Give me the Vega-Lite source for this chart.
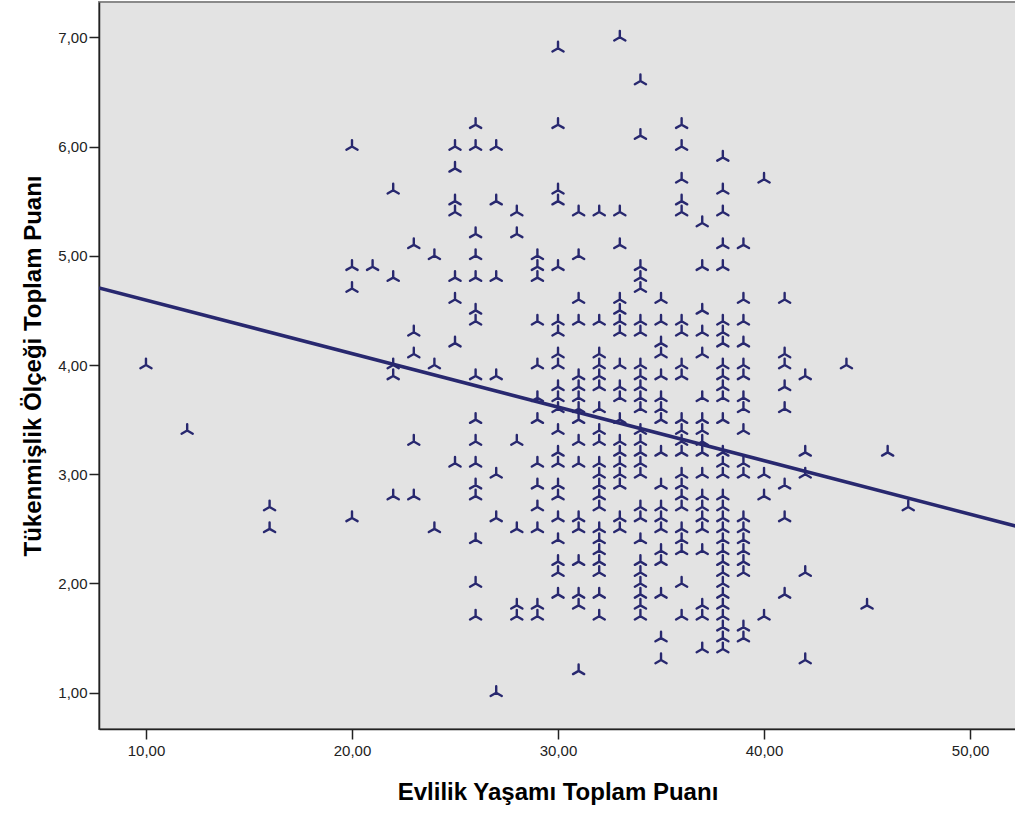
{
  "$schema": "https://vega.github.io/schema/vega-lite/v6.json",
  "width": 917,
  "height": 727,
  "autosize": {"type": "none"},
  "padding": {"left": 99, "top": 2, "right": 0, "bottom": 84},
  "background": "#ffffff",
  "config": {
    "view": {"fill": "#E3E3E3", "stroke": "#8A8A8A", "strokeWidth": 2},
    "axis": {"grid": false, "domainColor": "#222222", "domainWidth": 1.5, "tickColor": "#222222", "tickWidth": 1.5, "tickSize": 10,
      "labelFont": "Liberation Sans", "labelFontSize": 15, "labelColor": "#222222",
      "titleFont": "Liberation Sans", "titleFontSize": 24, "titleFontWeight": "bold", "titleColor": "#000000"}
  },
  "datasets": {
    "pts": [
      {"x":10,"y":4.0},{"x":12,"y":3.4},{"x":16,"y":2.7},{"x":16,"y":2.5},
      {"x":20,"y":6.0},{"x":20,"y":4.9},{"x":20,"y":4.7},{"x":20,"y":2.6},
      {"x":21,"y":4.9},
      {"x":22,"y":5.6},{"x":22,"y":4.8},{"x":22,"y":4.0},{"x":22,"y":3.9},{"x":22,"y":2.8},
      {"x":23,"y":5.1},{"x":23,"y":4.3},{"x":23,"y":4.1},{"x":23,"y":3.3},{"x":23,"y":2.8},
      {"x":24,"y":5.0},{"x":24,"y":4.0},{"x":24,"y":2.5},
      {"x":25,"y":6.0},{"x":25,"y":5.8},{"x":25,"y":5.5},{"x":25,"y":5.4},{"x":25,"y":4.8},{"x":25,"y":4.6},{"x":25,"y":4.2},{"x":25,"y":3.1},
      {"x":26,"y":6.2},{"x":26,"y":6.0},{"x":26,"y":5.2},{"x":26,"y":5.0},{"x":26,"y":4.8},{"x":26,"y":4.5},{"x":26,"y":4.4},{"x":26,"y":3.9},{"x":26,"y":3.5},{"x":26,"y":3.3},{"x":26,"y":3.1},{"x":26,"y":2.9},{"x":26,"y":2.8},{"x":26,"y":2.4},{"x":26,"y":2.0},{"x":26,"y":1.7},
      {"x":27,"y":6.0},{"x":27,"y":5.5},{"x":27,"y":4.8},{"x":27,"y":3.9},{"x":27,"y":3.0},{"x":27,"y":2.6},{"x":27,"y":1.0},
      {"x":28,"y":5.4},{"x":28,"y":5.2},{"x":28,"y":3.3},{"x":28,"y":2.5},{"x":28,"y":1.8},{"x":28,"y":1.7},
      {"x":29,"y":5.0},{"x":29,"y":4.9},{"x":29,"y":4.8},{"x":29,"y":4.4},{"x":29,"y":4.0},{"x":29,"y":3.7},{"x":29,"y":3.5},{"x":29,"y":3.1},{"x":29,"y":2.9},{"x":29,"y":2.7},{"x":29,"y":2.5},{"x":29,"y":1.8},{"x":29,"y":1.7},
      {"x":30,"y":6.9},{"x":30,"y":6.2},{"x":30,"y":5.6},{"x":30,"y":5.5},{"x":30,"y":4.9},{"x":30,"y":4.4},{"x":30,"y":4.3},{"x":30,"y":4.1},{"x":30,"y":4.0},{"x":30,"y":3.8},{"x":30,"y":3.7},{"x":30,"y":3.6},{"x":30,"y":3.4},{"x":30,"y":3.2},{"x":30,"y":3.1},{"x":30,"y":2.9},{"x":30,"y":2.8},{"x":30,"y":2.6},{"x":30,"y":2.4},{"x":30,"y":2.2},{"x":30,"y":2.1},{"x":30,"y":1.9},
      {"x":31,"y":5.4},{"x":31,"y":5.0},{"x":31,"y":4.6},{"x":31,"y":4.4},{"x":31,"y":3.9},{"x":31,"y":3.8},{"x":31,"y":3.7},{"x":31,"y":3.6},{"x":31,"y":3.5},{"x":31,"y":3.3},{"x":31,"y":3.1},{"x":31,"y":2.6},{"x":31,"y":2.5},{"x":31,"y":2.2},{"x":31,"y":1.9},{"x":31,"y":1.8},{"x":31,"y":1.2},
      {"x":32,"y":5.4},{"x":32,"y":4.4},{"x":32,"y":4.1},{"x":32,"y":4.0},{"x":32,"y":3.9},{"x":32,"y":3.8},{"x":32,"y":3.6},{"x":32,"y":3.4},{"x":32,"y":3.3},{"x":32,"y":3.1},{"x":32,"y":3.0},{"x":32,"y":2.9},{"x":32,"y":2.8},{"x":32,"y":2.7},{"x":32,"y":2.5},{"x":32,"y":2.4},{"x":32,"y":2.3},{"x":32,"y":2.2},{"x":32,"y":2.1},{"x":32,"y":1.9},{"x":32,"y":1.7},
      {"x":33,"y":7.0},{"x":33,"y":5.4},{"x":33,"y":5.1},{"x":33,"y":4.6},{"x":33,"y":4.5},{"x":33,"y":4.4},{"x":33,"y":4.3},{"x":33,"y":4.0},{"x":33,"y":3.8},{"x":33,"y":3.7},{"x":33,"y":3.5},{"x":33,"y":3.3},{"x":33,"y":3.2},{"x":33,"y":3.1},{"x":33,"y":3.0},{"x":33,"y":2.9},{"x":33,"y":2.6},{"x":33,"y":2.5},
      {"x":34,"y":6.6},{"x":34,"y":6.1},{"x":34,"y":4.9},{"x":34,"y":4.8},{"x":34,"y":4.7},{"x":34,"y":4.4},{"x":34,"y":4.3},{"x":34,"y":4.0},{"x":34,"y":3.9},{"x":34,"y":3.8},{"x":34,"y":3.7},{"x":34,"y":3.6},{"x":34,"y":3.4},{"x":34,"y":3.3},{"x":34,"y":3.2},{"x":34,"y":3.1},{"x":34,"y":3.0},{"x":34,"y":2.7},{"x":34,"y":2.6},{"x":34,"y":2.4},{"x":34,"y":2.2},{"x":34,"y":2.1},{"x":34,"y":2.0},{"x":34,"y":1.9},{"x":34,"y":1.8},{"x":34,"y":1.7},
      {"x":35,"y":4.6},{"x":35,"y":4.4},{"x":35,"y":4.2},{"x":35,"y":4.1},{"x":35,"y":3.9},{"x":35,"y":3.7},{"x":35,"y":3.6},{"x":35,"y":3.5},{"x":35,"y":3.2},{"x":35,"y":2.9},{"x":35,"y":2.7},{"x":35,"y":2.6},{"x":35,"y":2.5},{"x":35,"y":2.3},{"x":35,"y":2.2},{"x":35,"y":1.9},{"x":35,"y":1.5},{"x":35,"y":1.3},
      {"x":36,"y":6.2},{"x":36,"y":6.0},{"x":36,"y":5.7},{"x":36,"y":5.5},{"x":36,"y":5.4},{"x":36,"y":4.4},{"x":36,"y":4.3},{"x":36,"y":4.0},{"x":36,"y":3.9},{"x":36,"y":3.5},{"x":36,"y":3.4},{"x":36,"y":3.3},{"x":36,"y":3.2},{"x":36,"y":3.0},{"x":36,"y":2.9},{"x":36,"y":2.8},{"x":36,"y":2.7},{"x":36,"y":2.5},{"x":36,"y":2.4},{"x":36,"y":2.3},{"x":36,"y":2.0},{"x":36,"y":1.7},
      {"x":37,"y":5.3},{"x":37,"y":4.9},{"x":37,"y":4.5},{"x":37,"y":4.3},{"x":37,"y":4.1},{"x":37,"y":3.7},{"x":37,"y":3.5},{"x":37,"y":3.4},{"x":37,"y":3.3},{"x":37,"y":3.2},{"x":37,"y":3.0},{"x":37,"y":2.8},{"x":37,"y":2.7},{"x":37,"y":2.6},{"x":37,"y":2.5},{"x":37,"y":2.3},{"x":37,"y":1.8},{"x":37,"y":1.7},{"x":37,"y":1.4},
      {"x":38,"y":5.9},{"x":38,"y":5.6},{"x":38,"y":5.4},{"x":38,"y":5.1},{"x":38,"y":4.9},{"x":38,"y":4.4},{"x":38,"y":4.3},{"x":38,"y":4.2},{"x":38,"y":4.0},{"x":38,"y":3.9},{"x":38,"y":3.8},{"x":38,"y":3.7},{"x":38,"y":3.5},{"x":38,"y":3.2},{"x":38,"y":3.1},{"x":38,"y":3.0},{"x":38,"y":2.8},{"x":38,"y":2.7},{"x":38,"y":2.6},{"x":38,"y":2.5},{"x":38,"y":2.4},{"x":38,"y":2.3},{"x":38,"y":2.2},{"x":38,"y":2.1},{"x":38,"y":2.0},{"x":38,"y":1.9},{"x":38,"y":1.8},{"x":38,"y":1.7},{"x":38,"y":1.6},{"x":38,"y":1.5},{"x":38,"y":1.4},
      {"x":39,"y":5.1},{"x":39,"y":4.6},{"x":39,"y":4.4},{"x":39,"y":4.2},{"x":39,"y":4.0},{"x":39,"y":3.9},{"x":39,"y":3.7},{"x":39,"y":3.6},{"x":39,"y":3.4},{"x":39,"y":3.1},{"x":39,"y":3.0},{"x":39,"y":2.6},{"x":39,"y":2.5},{"x":39,"y":2.4},{"x":39,"y":2.3},{"x":39,"y":2.2},{"x":39,"y":2.1},{"x":39,"y":1.6},{"x":39,"y":1.5},
      {"x":40,"y":5.7},{"x":40,"y":3.0},{"x":40,"y":2.8},{"x":40,"y":1.7},
      {"x":41,"y":4.6},{"x":41,"y":4.1},{"x":41,"y":4.0},{"x":41,"y":3.8},{"x":41,"y":3.6},{"x":41,"y":2.9},{"x":41,"y":2.6},{"x":41,"y":1.9},
      {"x":42,"y":3.9},{"x":42,"y":3.2},{"x":42,"y":3.0},{"x":42,"y":2.1},{"x":42,"y":1.3},
      {"x":44,"y":4.0},{"x":45,"y":1.8},{"x":46,"y":3.2},{"x":47,"y":2.7}
    ],
    "fit": [
      {"x": 7.72, "y": 4.706},
      {"x": 52.23, "y": 2.525}
    ]
  },
  "layer": [
    {
      "data": {"name": "pts"},
      "mark": {"type": "point", "shape": "M0,0L0,-1M0,0L-0.87,0.5M0,0L0.87,0.5", "filled": false, "size": 165, "strokeWidth": 2.4, "strokeCap": "round", "color": "#28286F", "opacity": 1},
      "encoding": {
        "x": {"field": "x", "type": "quantitative", "scale": {"domain": [7.72, 52.23], "nice": false, "zero": false},
          "axis": {"values": [10, 20, 30, 40, 50], "labelExpr": "replace(format(datum.value, '.2f'), '.', ',')", "title": "Evlilik Yaşamı Toplam Puanı", "labelPadding": 4, "titlePadding": 22}},
        "y": {"field": "y", "type": "quantitative", "scale": {"domain": [0.668, 7.323], "nice": false, "zero": false},
          "axis": {"values": [1, 2, 3, 4, 5, 6, 7], "labelExpr": "replace(format(datum.value, '.2f'), '.', ',')", "title": "Tükenmişlik Ölçeği Toplam Puanı", "labelPadding": 2, "titlePadding": 12}}
      }
    },
    {
      "data": {"name": "fit"},
      "mark": {"type": "line", "color": "#28286F", "strokeWidth": 3.5, "clip": true},
      "encoding": {
        "x": {"field": "x", "type": "quantitative"},
        "y": {"field": "y", "type": "quantitative"}
      }
    }
  ]
}
